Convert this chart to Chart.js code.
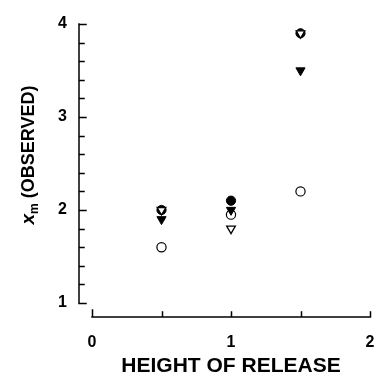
<!DOCTYPE html>
<html>
<head>
<meta charset="utf-8">
<script src="https://cdn.jsdelivr.net/npm/chart.js@4"></script>
<style>
  html, body { margin: 0; padding: 0; background: #fff; }
  #wrap { width: 376px; height: 389px; }
</style>
</head>
<body>
<div id="wrap"><canvas id="chart"></canvas></div>
<script>
// --- DATA ---
const heights = [0.5, 1, 1.5];
const openCircle = [1.6, 1.95, 2.2];
const filledCircle = [2.0, 2.1, 3.9];
const filledTriangle = [1.9, 2.0, 3.5];
const openTriangle = [2.0, 1.8, 3.9];

const xMajorTicks = [0, 1, 2];
const xMinorTicks = [0.5, 1.5];
const yMajorTicks = [1, 2, 3, 4];

const FONT = "'Liberation Sans', Arial, Helvetica, sans-serif";

function toPoints(ys) {
    return heights.map((h, i) => ({ x: h, y: ys[i] }));
}

// Detached axes drawn from the chart's own scales
const offsetAxes = {
    id: 'offsetAxes',
    afterDraw(chart) {
        const { ctx, chartArea, scales } = chart;
        const xs = scales.x, ys = scales.y;
        const axisX = chartArea.left - 13;
        const axisY = chartArea.bottom + 14;
        ctx.save();
        ctx.strokeStyle = '#000';
        ctx.lineWidth = 1.5;
        ctx.lineCap = 'square';

        // y axis
        ctx.beginPath();
        ctx.moveTo(axisX, ys.getPixelForValue(4));
        ctx.lineTo(axisX, ys.getPixelForValue(1));
        for (let v = 1; v <= 4.001; v += 0.2) {
            const p = Math.round(ys.getPixelForValue(v)) + 0.5;
            const major = yMajorTicks.some(t => Math.abs(t - v) < 0.01);
            ctx.moveTo(axisX, p);
            ctx.lineTo(axisX + (major ? 7 : 5), p);
        }
        ctx.stroke();

        // x axis
        ctx.beginPath();
        ctx.moveTo(xs.getPixelForValue(0), axisY);
        ctx.lineTo(xs.getPixelForValue(2), axisY);
        xMajorTicks.concat(xMinorTicks).forEach(v => {
            const p = Math.round(xs.getPixelForValue(v)) + 0.5;
            ctx.moveTo(p, axisY);
            ctx.lineTo(p, axisY - (v === 0 ? 7 : 5));
        });
        ctx.stroke();

        // y axis title: x_m (OBSERVED)
        const cx = 28, cy = 155;
        const fX = 'italic bold 19px ' + FONT;
        const fSub = 'bold 12px ' + FONT;
        const fRest = 'bold 18px ' + FONT;
        const rest = ' (OBSERVED)';
        ctx.font = fX; const wX = ctx.measureText('x').width;
        ctx.font = fSub; const wSub = ctx.measureText('m').width;
        ctx.font = fRest; const wRest = ctx.measureText(rest).width;
        const total = wX + wSub + wRest;
        ctx.translate(cx, cy);
        ctx.rotate(-Math.PI / 2);
        ctx.fillStyle = '#000';
        ctx.textBaseline = 'alphabetic';
        let pos = -total / 2;
        ctx.font = fX; ctx.fillText('x', pos, 6); pos += wX;
        ctx.font = fSub; ctx.fillText('m', pos, 10); pos += wSub;
        ctx.font = fRest; ctx.fillText(rest, pos, 6);
        ctx.restore();
    }
};

function noPadding(scale) {
    scale.paddingTop = 0;
    scale.paddingBottom = 0;
    scale.paddingLeft = 0;
    scale.paddingRight = 0;
}

const ctx = document.getElementById('chart').getContext('2d');
new Chart(ctx, {
    type: 'scatter',
    data: {
        datasets: [
            {
                label: 'open triangle',
                data: toPoints(openTriangle),
                pointStyle: 'triangle',
                rotation: 180,
                radius: 5,
                backgroundColor: '#fff',
                borderColor: '#000',
                borderWidth: 1.3,
                order: 1
            },
            {
                label: 'filled triangle',
                data: toPoints(filledTriangle),
                pointStyle: 'triangle',
                rotation: 180,
                radius: 5.3,
                backgroundColor: '#000',
                borderColor: '#000',
                borderWidth: 1,
                order: 2
            },
            {
                label: 'filled circle',
                data: toPoints(filledCircle),
                pointStyle: 'circle',
                radius: 4.6,
                backgroundColor: '#000',
                borderColor: '#000',
                borderWidth: 1,
                order: 3
            },
            {
                label: 'open circle',
                data: toPoints(openCircle),
                pointStyle: 'circle',
                radius: 4.6,
                backgroundColor: '#fff',
                borderColor: '#000',
                borderWidth: 1.2,
                order: 4
            }
        ]
    },
    options: {
        responsive: true,
        maintainAspectRatio: false,
        animation: false,
        layout: { autoPadding: false, padding: { top: 24, right: 6, left: 0, bottom: 0 } },
        plugins: {
            legend: { display: false },
            tooltip: { enabled: false }
        },
        scales: {
            x: {
                type: 'linear',
                min: 0,
                max: 2,
                grid: { display: false, drawTicks: false },
                border: { display: false },
                ticks: {
                    stepSize: 1,
                    color: '#000',
                    padding: 30,
                    font: { family: FONT, size: 16, weight: 'bold' }
                },
                title: {
                    display: true,
                    text: 'HEIGHT OF RELEASE',
                    color: '#000',
                    font: { family: FONT, size: 21, weight: 'bold' },
                    padding: { top: 0, bottom: 10 }
                },
                afterFit(scale) { scale.height = 86; noPadding(scale); }
            },
            y: {
                min: 1,
                max: 4,
                grid: { display: false, drawTicks: false },
                border: { display: false },
                ticks: {
                    stepSize: 1,
                    color: '#000',
                    padding: 25,
                    font: { family: FONT, size: 16, weight: 'bold' }
                },
                afterFit(scale) { scale.width = 92; noPadding(scale); }
            }
        }
    },
    plugins: [offsetAxes]
});
</script>
</body>
</html>
